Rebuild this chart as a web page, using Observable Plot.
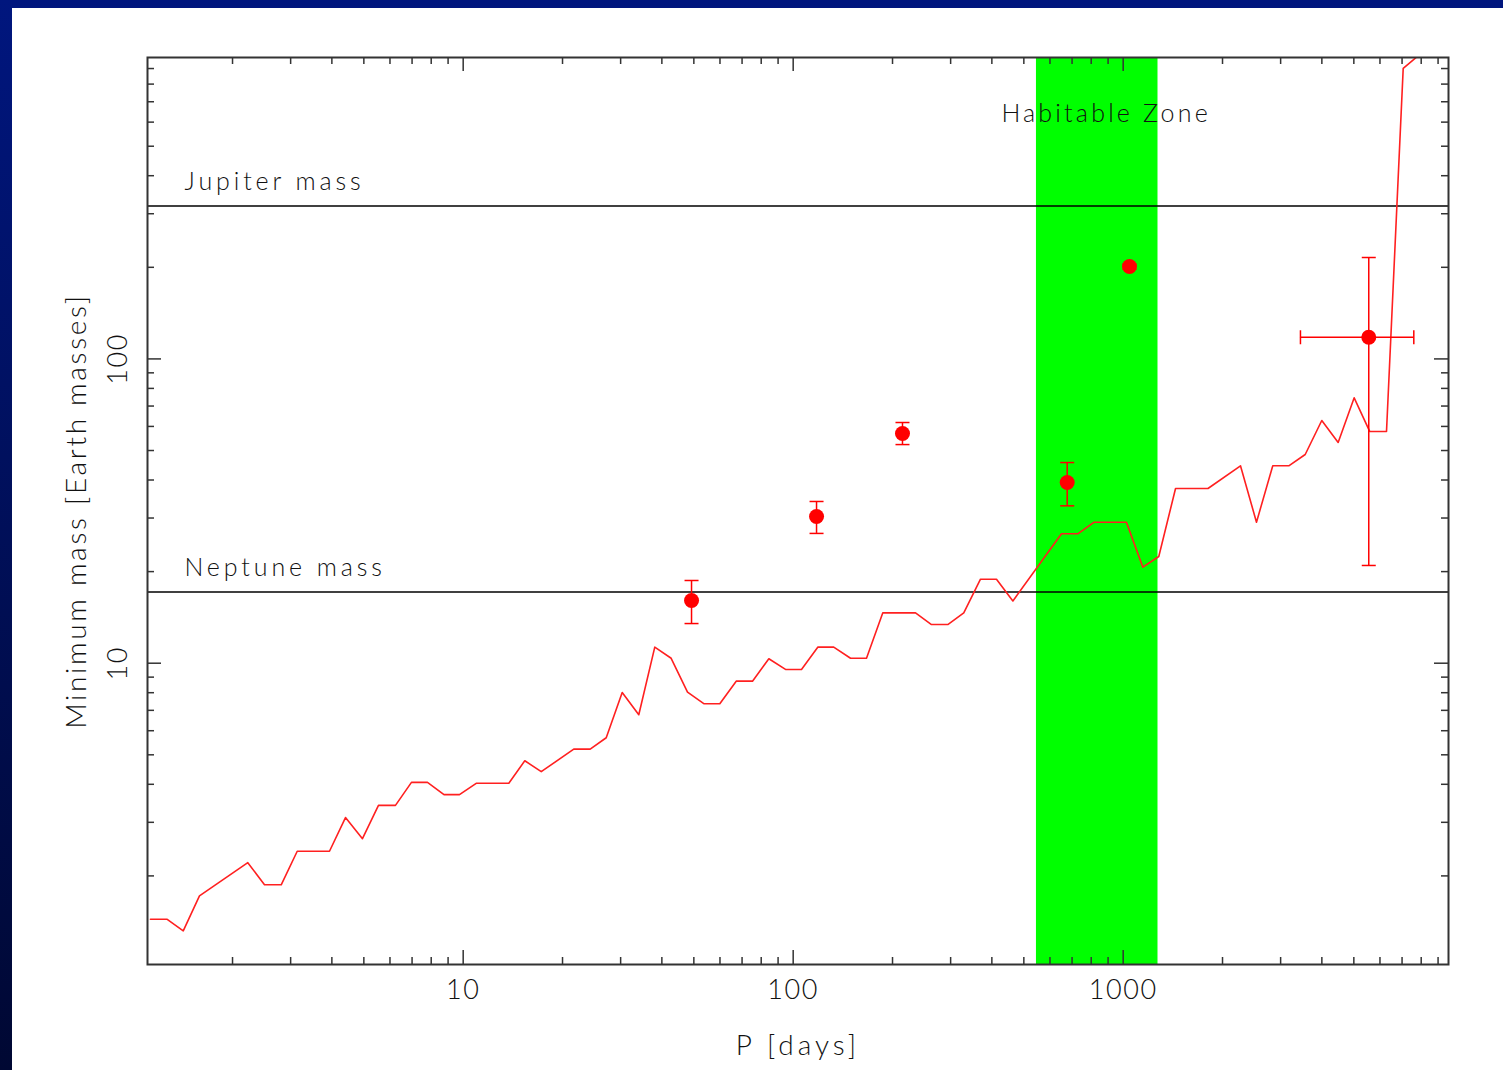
<!DOCTYPE html>
<html><head><meta charset="utf-8">
<script src="https://cdn.jsdelivr.net/npm/d3@7"></script>
<script src="https://cdn.jsdelivr.net/npm/@observablehq/plot@0.6"></script>
<style>
html,body{margin:0;padding:0;width:1503px;height:1070px;overflow:hidden;}
body{background:linear-gradient(to bottom,#00167e,#000833);position:relative;}
#panel{position:absolute;left:12px;top:8px;right:0;bottom:0;background:#fff;}
#chart{position:absolute;left:0;top:0;}
#chart text{letter-spacing:1.6px;}
</style></head>
<body><div id="panel"></div><div id="chart"></div>
<script>
// Detection limit curve (period in days, minimum mass in Earth masses)
const limitPeriod = [1.128,1.268,1.418,1.588,2.225,2.500,2.809,3.141,3.934,4.399,4.952,5.537,6.234,6.970,7.795,8.746,9.745,10.95,13.75,15.37,17.24,21.63,24.26,27.13,30.33,34.05,38.07,42.68,47.84,53.59,59.93,67.20,75.29,84.38,94.78,105.97,118.7,132.7,149.2,166.8,186.9,234.8,262.5,294.1,328.8,369.5,413.1,463.2,650.2,728.6,816.8,1023,1147,1282,1441,1807,2267,2535,2840,3176,3561,3998,4482,5012,5589,6280,7056,7907];
const limitMass = [1.44,1.44,1.32,1.72,2.21,1.87,1.87,2.41,2.41,3.11,2.65,3.41,3.41,4.06,4.06,3.70,3.70,4.03,4.03,4.78,4.40,5.22,5.22,5.69,8.01,6.77,11.29,10.38,8.03,7.36,7.36,8.73,8.73,10.34,9.54,9.54,11.29,11.29,10.38,10.38,14.64,14.64,13.40,13.40,14.64,18.88,18.88,16.01,26.62,26.62,29.07,29.07,20.68,22.42,37.51,37.51,44.54,29.07,44.54,44.54,48.52,62.76,53.14,74.50,57.72,57.72,900.4,1000];

// Planets
const planetPeriod = [49.2,117.7,214.4,676.6,1045,5549];
const planetMass   = [16.07,30.35,56.9,39.25,201.2,117.8];
const massLow      = [13.5,26.7,52.3,32.9,197,20.95];
const massHigh     = [18.7,34.0,61.8,45.65,205,215.4];
const periodLow    = [null,null,null,null,null,3445];
const periodHigh   = [null,null,null,null,null,7598];

// Reference masses and habitable zone
const refNames  = ["Jupiter mass","Neptune mass"];
const refMasses = [317.8,17.15];
const hzPeriod  = [546,1275];
const hzLabel   = "Habitable Zone";

// Axes
const xDomain = [1.105,9679];
const yDomain = [1.023,978.4];
const xMajor = [10,100,1000];
const xMinor = [2,3,4,5,6,7,8,9,20,30,40,50,60,70,80,90,200,300,400,500,600,700,800,900,2000,3000,4000,5000,6000,7000,8000,9000];
const yMajor = [10,100];
const yMinor = [2,3,4,5,6,7,8,9,20,30,40,50,60,70,80,90,200,300,400,500,600,700,800,900];
const xTitle = "P [days]";
const yTitle = "Minimum mass [Earth masses]";

const limit = limitPeriod.map((p,i)=>({p, m: limitMass[i]}));
const planets = planetPeriod.map((p,i)=>({p, m: planetMass[i], lo: massLow[i], hi: massHigh[i], plo: periodLow[i], phi: periodHigh[i]}));
const xErr = planets.filter(d=>d.plo!=null);
const refs = refNames.map((n,i)=>({n, m: refMasses[i]}));

const hcap = {draw(ctx,size){const r=Math.sqrt(size/Math.PI);ctx.moveTo(-r,0);ctx.lineTo(r,0);}};
const vcap = {draw(ctx,size){const r=Math.sqrt(size/Math.PI);ctx.moveTo(0,-r);ctx.lineTo(0,r);}};

const W=1503,H=1070,ML=147,MR=55,MT=57,MB=106;
const PW=W-ML-MR, PH=H-MT-MB;
const tickCol="#333";
const font="Lato, 'DejaVu Sans', sans-serif";

const chart = Plot.plot({
  width:W, height:H, marginLeft:ML, marginRight:MR, marginTop:MT, marginBottom:MB,
  style:{background:"transparent", fontFamily:font, fontWeight:300, color:"#111"},
  x:{type:"log", domain:xDomain, axis:null},
  y:{type:"log", domain:yDomain, axis:null},
  marks:[
    Plot.rect([{a:hzPeriod[0], b:hzPeriod[1]}], {x1:"a", x2:"b", fill:"#00ff00"}),
    Plot.ruleY(refs, {y:"m", stroke:"#000", strokeWidth:1.5}),
    Plot.text(refs, {x:1.43, y:"m", text:"n", textAnchor:"start", dy:-24, fontSize:25, fill:"#111"}),
    Plot.text([hzLabel], {x:427.6, y:640, text:d=>d, textAnchor:"start", fontSize:25, fill:"#111"}),
    Plot.line(limit, {x:"p", y:"m", stroke:"#ff2020", strokeWidth:1.6, clip:true}),
    Plot.ruleX(planets, {x:"p", y1:"lo", y2:"hi", stroke:"#ff0000", strokeWidth:1.5}),
    Plot.dot(planets, {x:"p", y:"lo", r:7, symbol:hcap, stroke:"#ff0000", fill:"none", strokeWidth:1.5}),
    Plot.dot(planets, {x:"p", y:"hi", r:7, symbol:hcap, stroke:"#ff0000", fill:"none", strokeWidth:1.5}),
    Plot.ruleY(xErr, {y:"m", x1:"plo", x2:"phi", stroke:"#ff0000", strokeWidth:1.5}),
    Plot.dot(xErr, {x:"plo", y:"m", r:7, symbol:vcap, stroke:"#ff0000", fill:"none", strokeWidth:1.5}),
    Plot.dot(xErr, {x:"phi", y:"m", r:7, symbol:vcap, stroke:"#ff0000", fill:"none", strokeWidth:1.5}),
    Plot.dot(planets, {x:"p", y:"m", r:7.5, fill:"#ff0000", stroke:"none"}),
    // inward ticks on all four sides
    Plot.tickX(xMinor, {x:d=>d, insetTop:PH-7, stroke:tickCol, strokeWidth:1.5}),
    Plot.tickX(xMinor, {x:d=>d, insetBottom:PH-7, stroke:tickCol, strokeWidth:1.5}),
    Plot.tickX(xMajor, {x:d=>d, insetTop:PH-14, stroke:tickCol, strokeWidth:1.5}),
    Plot.tickX(xMajor, {x:d=>d, insetBottom:PH-14, stroke:tickCol, strokeWidth:1.5}),
    Plot.tickY(yMinor, {y:d=>d, insetRight:PW-7, stroke:tickCol, strokeWidth:1.5}),
    Plot.tickY(yMinor, {y:d=>d, insetLeft:PW-7, stroke:tickCol, strokeWidth:1.5}),
    Plot.tickY(yMajor, {y:d=>d, insetRight:PW-14, stroke:tickCol, strokeWidth:1.5}),
    Plot.tickY(yMajor, {y:d=>d, insetLeft:PW-14, stroke:tickCol, strokeWidth:1.5}),
    Plot.frame({stroke:tickCol, strokeWidth:2}),
    // tick labels and titles
    Plot.text(xMajor, {x:d=>d, text:d=>String(d), frameAnchor:"bottom", textAnchor:"middle", lineAnchor:"middle", dy:26, fontSize:27, fill:"#111"}),
    Plot.text(yMajor, {y:d=>d, text:d=>String(d), frameAnchor:"left", textAnchor:"middle", lineAnchor:"middle", dx:-29, rotate:-90, fontSize:27, fill:"#111"}),
    Plot.text([xTitle], {text:d=>d, frameAnchor:"bottom", textAnchor:"middle", lineAnchor:"middle", dy:82, fontSize:28, fill:"#111"}),
    Plot.text([yTitle], {text:d=>d, frameAnchor:"left", textAnchor:"middle", lineAnchor:"middle", dx:-70, rotate:-90, fontSize:28, fill:"#111"})
  ]
});
// wide letter spacing, as in the original plotting font
const spacing = new Map([["Jupiter mass",3.9],["Neptune mass",3.9],[hzLabel,3.2],[xTitle,4],[yTitle,2.7]]);
d3.select(chart).selectAll("text").each(function(){
  const s = spacing.get(this.textContent);
  if (s != null) this.style.letterSpacing = s + "px";
});
document.getElementById("chart").appendChild(chart);
</script>
</body></html>
